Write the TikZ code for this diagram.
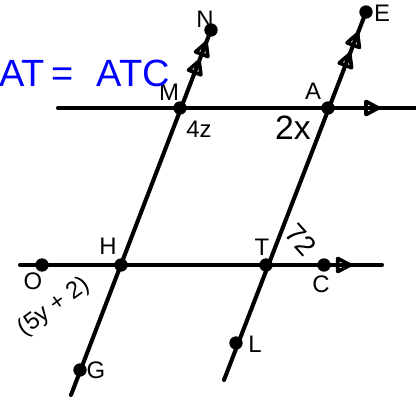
\documentclass[tikz,border=0pt]{standalone}
\usepackage{fontspec}
\setmainfont{Liberation Sans}
\usetikzlibrary{arrows.meta,decorations.markings}
\begin{document}
\begin{tikzpicture}[x=0.025cm,y=-0.025cm,
  ln/.style={line width=2.9pt,line cap=round},
  pt/.style={circle,fill=black,inner sep=0pt,minimum size=9.5pt},
  lbl/.style={font=\fontsize{17}{17}\selectfont,inner sep=0pt},
  tip/.style={postaction={decorate,decoration={markings,
     mark=at position #1 with {\arrow{Triangle[open,length=13pt,width=13pt,line width=2.6pt,round]}}}}},
  tiptwo/.style 2 args={postaction={decorate,decoration={markings,
     mark=at position #1 with {\arrow{Triangle[open,length=13pt,width=13pt,line width=2.6pt,round]}},
     mark=at position #2 with {\arrow{Triangle[open,length=13pt,width=13pt,line width=2.6pt,round]}}}}}
]
\useasboundingbox (0,0) rectangle (416,400);
% points
\coordinate (tL) at (58,108);
\coordinate (tR) at (416,108);
\coordinate (bL) at (20,265);
\coordinate (bR) at (382,265);
\coordinate (M) at (180,108);
\coordinate (A) at (328,108);
\coordinate (H) at (121,265);
\coordinate (T) at (266,265);
\coordinate (N) at (211,30);
\coordinate (E) at (366,12);
\coordinate (O) at (42,265);
\coordinate (C) at (324,265);
\coordinate (G) at (80,370);
\coordinate (L) at (236,343);
\coordinate (g0) at (71,395);
\coordinate (l0) at (224,380);
% lines
\draw[ln,tip=0.9] (tL) -- (tR);
\draw[ln,tip=0.917] (bL) -- (bR);
\draw[ln,tiptwo={0.92}{0.97}] (g0) -- (N);
\draw[ln,tiptwo={0.891}{0.946}] (l0) -- (E);
% dots
\foreach \p in {M,A,H,T,N,E,O,C,G,L} \node[pt] at (\p) {};
% labels
\node[lbl] at (205,19) {N};
\node[lbl] at (169,92) {M};
\node[lbl] at (199,129) {4z};
\node[lbl] at (313,91) {A};
\node[lbl,font=\fontsize{24}{24}\selectfont] at (293,128) {2x};
\node[lbl] at (382,13) {E};
\node[lbl] at (108,246) {H};
\node[lbl] at (262,247) {T};
\node[lbl,rotate=-48,font=\fontsize{20}{20}\selectfont] at (301,240) {72};
\node[lbl] at (33,281) {O};
\node[lbl,rotate=36] at (54,307) {(5y + 2)};
\node[lbl] at (321,284) {C};
\node[lbl] at (96,370) {G};
\node[lbl] at (255,344) {L};
\node[inner sep=0pt,anchor=west,text=blue,font=\fontsize{27}{27}\selectfont] at (-1,73) {AT\hspace{5pt}=\hspace{16pt}ATC};
\end{tikzpicture}
\end{document}
